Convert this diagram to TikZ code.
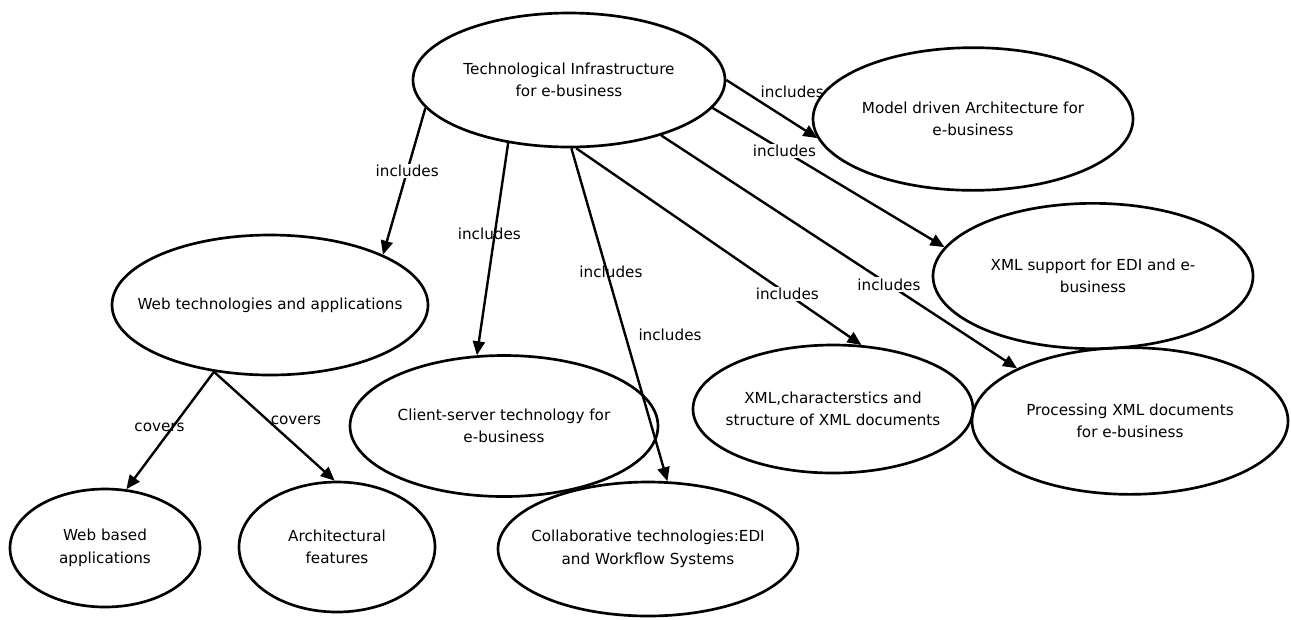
\documentclass[tikz,border=0pt]{standalone}
\usepackage{fontspec}
\setmainfont{DejaVu Sans}
\usetikzlibrary{shapes.geometric,arrows.meta}

\tikzset{every picture/.style={line width=0.75pt}}
\tikzset{
  concept/.style={draw, ellipse, line width=2pt, align=center, inner xsep=-80pt, inner ysep=0pt,
    font=\fontsize{11.4}{16.9}\selectfont},
  link/.style={line width=1.8pt, -{Triangle[length=10.5pt,width=9pt]}},
  phrase/.style={inner sep=1pt, font=\fontsize{11.4}{14}\selectfont},
  phrasebg/.style={phrase, fill=white},
}

\begin{document}
\begin{tikzpicture}[x=0.75pt,y=0.75pt,yscale=-1,xscale=1]
        \useasboundingbox (0,0) rectangle (1291,619);

        %Shape: Ellipse [id:infra]
        \node [concept, minimum width=234pt, minimum height=100.5pt] (infra) at (569,80) {Technological Infrastructure\\for e-business};
        %Shape: Ellipse [id:mda]
        \node [concept, minimum width=240pt, minimum height=107pt] (mda) at (973,119) {Model driven Architecture for\\e-business};
        %Shape: Ellipse [id:xmlsup]
        \node [concept, minimum width=240pt, minimum height=109pt] (xmlsup) at (1093,276) {XML support for EDI and e-\\business};
        %Shape: Ellipse [id:proc]
        \node [concept, minimum width=237pt, minimum height=110pt] (proc) at (1130,421) {Processing XML documents\\for e-business};
        %Shape: Ellipse [id:xmlchar]
        \node [concept, minimum width=210pt, minimum height=96pt] (xmlchar) at (833,409) {XML,characterstics and\\structure of XML documents};
        %Shape: Ellipse [id:web]
        \node [concept, minimum width=237pt, minimum height=105pt] (web) at (270,305) {Web technologies and applications};
        %Shape: Ellipse [id:cs]
        \node [concept, minimum width=231pt, minimum height=105.75pt] (cs) at (504,426) {Client-server technology for\\e-business};
        %Shape: Ellipse [id:collab]
        \node [concept, minimum width=225pt, minimum height=100.5pt] (collab) at (648,549) {Collaborative technologies:EDI\\and Workflow Systems};
        %Shape: Ellipse [id:webapp]
        \node [concept, minimum width=142.5pt, minimum height=88.5pt] (webapp) at (105,548) {Web based\\applications};
        %Shape: Ellipse [id:arch]
        \node [concept, minimum width=147pt, minimum height=97.5pt] (arch) at (337,547) {Architectural\\features};

        %Straight Lines [includes]
        \draw [link] (infra.191) -- node [phrasebg, pos=0.43] (inc1) {includes} (web.24);
        \draw [link] (infra.226) -- node [phrase, pos=0.43, xshift=-4pt] (inc2) {includes} (cs.111);
        \draw [link] (infra.272) -- node [phrase, pos=0.37, xshift=3pt] (inc3) {includes} (collab.74);
        \draw [link] (infra.276) -- node [phrasebg, pos=0.74] (inc4) {includes} (xmlchar.66);
        \draw [link] (infra.329) -- node [phrasebg, pos=0.64] (inc5) {includes} (proc.155);
        \draw [link] (infra.349) -- node [phrasebg, pos=0.31] (inc6) {includes} (xmlsup.169);
        \draw [link] (infra.0) -- node [phrase, pos=0.35, anchor=south west] (inc7) {includes} (mda.187);
        % Text Node
        \node [phrase] (inc8) at (670,335) {includes};

        %Straight Lines [covers]
        \draw [link] (web.230) -- node [phrase, pos=0.47, xshift=-10pt] (cov1) {covers} (webapp.70);
        \draw [link] (web.230) -- node [phrase, pos=0.45, anchor=west] (cov2) {covers} (arch.92);

\end{tikzpicture}
\end{document}
